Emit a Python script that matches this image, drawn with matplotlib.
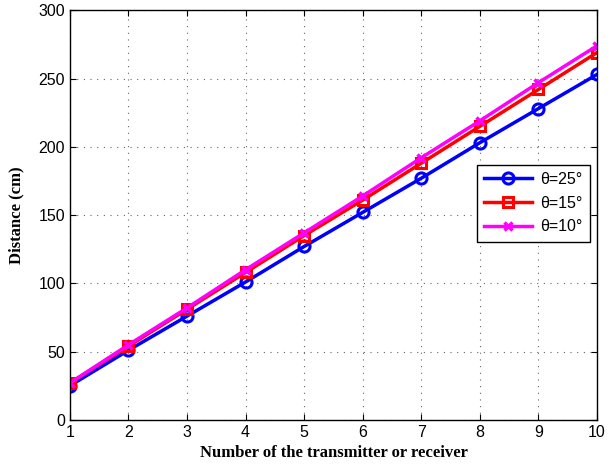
import matplotlib
matplotlib.use("Agg")
import matplotlib.pyplot as plt

x = [1, 2, 3, 4, 5, 6, 7, 8, 9, 10]
d25 = [25, 51, 76, 101, 127, 152, 177, 203, 228, 253]
d15 = [27, 54, 81, 108, 135, 161, 188, 215, 242, 269]
d10 = [27, 55, 82, 110, 137, 164, 192, 219, 247, 274]
labels = ["θ=25°", "θ=15°", "θ=10°"]

fig = plt.figure(figsize=(6.13, 4.65), dpi=100)
ax = fig.add_axes([0.114, 0.097, 0.860, 0.881])

ax.plot(x, d25, color="#0000ff", lw=2.5, marker="o", ms=8, mfc="none", mew=2.2, label=labels[0])
ax.plot(x, d15, color="#ff0000", lw=2.5, marker="s", ms=6.5, mfc="none", mew=2.2, label=labels[1])
ax.plot(x, d10, color="#ff00ff", lw=2.5, marker="x", ms=6, mew=2.5, label=labels[2])

ax.set_xlim(1, 10)
ax.set_ylim(0, 300)
ax.set_xticks(range(1, 11))
ax.set_yticks(range(0, 301, 50))
ax.grid(True, linestyle=(0, (1, 5)), color="#666666", lw=0.8)
ax.tick_params(direction="in", length=4, labelsize=11.5, top=True, right=True)
for lab in ax.get_xticklabels() + ax.get_yticklabels():
    lab.set_fontfamily("Liberation Sans")
for s in ax.spines.values():
    s.set_linewidth(1.0)

ax.set_xlabel("Number of the transmitter or receiver", fontfamily="Liberation Serif",
              fontweight="bold", fontsize=12, labelpad=4)
ax.set_ylabel("Distance (cm)", fontfamily="Liberation Serif", fontweight="bold",
              fontsize=12, labelpad=10)

leg = ax.legend(loc="upper right", bbox_to_anchor=(0.986, 0.623), prop={"family": "Liberation Sans", "size": 11.5},
                fancybox=False, edgecolor="black", framealpha=1, handlelength=3.0,
                borderpad=0.45, labelspacing=0.55, handletextpad=0.5, borderaxespad=0)
leg.get_frame().set_linewidth(1.0)

fig.savefig("out.png", dpi=100)
